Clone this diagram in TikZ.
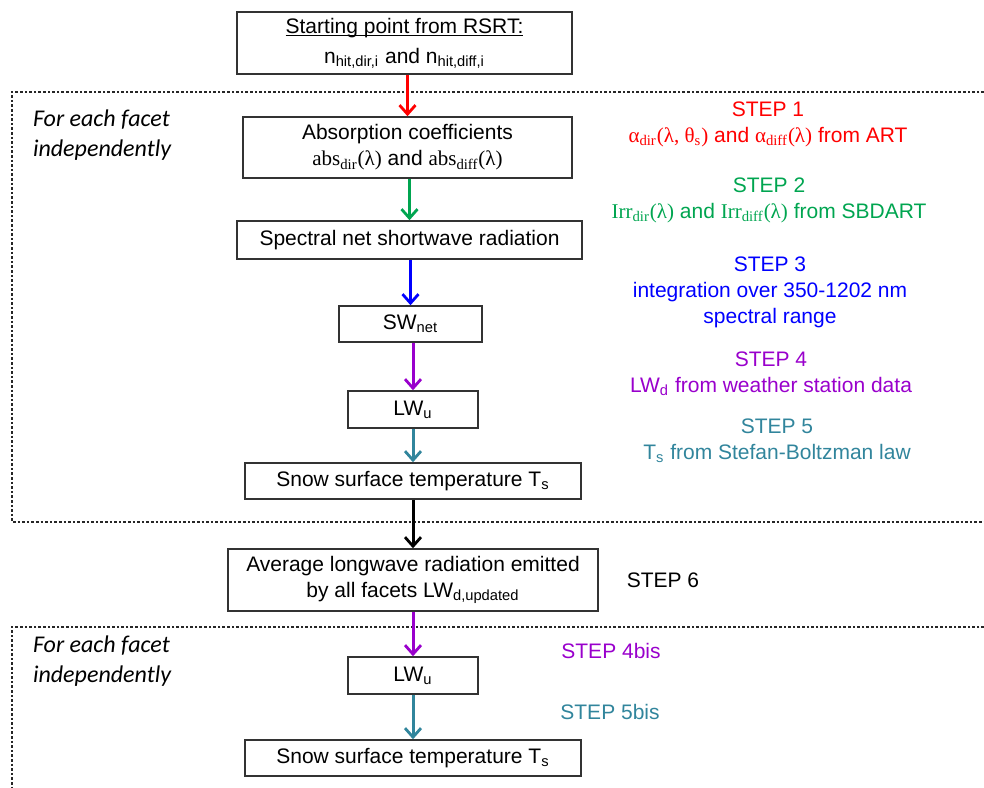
\documentclass[tikz,border=0pt]{standalone}
\usepackage{fontspec}
\setmainfont{Liberation Sans}
\newfontfamily\tnr{Liberation Serif}
\newfontfamily\calfont{Carlito}
\usetikzlibrary{arrows.meta}

\definecolor{stepred}{RGB}{255,0,0}
\definecolor{stepgreen}{RGB}{0,165,80}
\definecolor{stepblue}{RGB}{0,0,255}
\definecolor{steppurple}{RGB}{153,0,204}
\definecolor{stepteal}{RGB}{49,133,156}
\newcommand{\lo}[1]{\textsubscript{#1}}
\newcommand{\uln}[1]{\setbox0\hbox{#1}\rlap{\rule[-1.3pt]{\wd0}{0.5pt}}\box0}

\begin{document}
\begin{tikzpicture}[x=0.5pt,y=-0.5pt,
    box/.style={draw=black!80, line width=0.75pt, fill=white, align=center, inner sep=0pt,
        font=\fontsize{10.5}{13}\selectfont},
    flow/.style={line width=1.5pt, -{Straight Barb[length=4.5pt,width=8pt,line width=1.4pt]}},
    steptext/.style={align=center, font=\fontsize{10.5}{13}\selectfont},
    facet/.style={align=left, anchor=west, font=\calfont\itshape\fontsize{12}{15}\selectfont},
    frame/.style={line width=1.4pt, dash pattern=on 1.3pt off 1pt, black!85}]
    \useasboundingbox (0,0) rectangle (984,787);
    % Vùng "for each facet"
    \draw[frame] (984,92) -- (12,92) -- (12,522) -- (984,522);
    \draw[frame] (984,627) -- (12,627) -- (12,790);
    \node[facet] (facet1) at (26,135) {For each facet\\independently};
    \node[facet] (facet2) at (26,661) {For each facet\\independently};
    % Các hộp của sơ đồ
    \node[box, minimum width=167.5pt, minimum height=31pt] (start) at (404.5,43)
        {\uln{Starting point from RSRT:}\\[2pt] n\lo{hit,dir,i} and n\lo{hit,diff,i}};
    \node[box, minimum width=164.5pt, minimum height=30.5pt] (absorb) at (407.5,147.5)
        {Absorption coefficients\\ {\tnr abs\lo{dir}(λ)} and {\tnr abs\lo{diff}(λ)}};
    \node[box, minimum width=172.5pt, minimum height=19pt] (spectral) at (409.5,240)
        {Spectral net shortwave radiation};
    \node[box, minimum width=71.5pt, minimum height=18pt] (swnet) at (410.5,324) {SW\lo{net}};
    \node[box, minimum width=65pt, minimum height=18.5pt] (lwu) at (413,409.5) {LW\lo{u}};
    \node[box, minimum width=168pt, minimum height=18pt] (snow) at (413,481)
        {Snow surface temperature T\lo{s}};
    \node[box, minimum width=185pt, minimum height=31pt] (avg) at (413,580)
        {Average longwave radiation emitted\\ by all facets LW\lo{d,updated}};
    \node[box, minimum width=65pt, minimum height=18.5pt] (lwub) at (413,675.5) {LW\lo{u}};
    \node[box, minimum width=168pt, minimum height=18pt] (snowb) at (413,758)
        {Snow surface temperature T\lo{s}};
    % Mũi tên
    \draw[flow, stepred] (start.south -| absorb) -- (absorb);
    \draw[flow, stepgreen] (absorb.south -| spectral) -- (spectral);
    \draw[flow, stepblue] (spectral.south -| swnet) -- (swnet);
    \draw[flow, steppurple] (swnet.south -| lwu) -- (lwu);
    \draw[flow, stepteal] (lwu) -- (snow);
    \draw[flow, black] (snow) -- (avg);
    \draw[flow, steppurple] (avg) -- (lwub);
    \draw[flow, stepteal] (lwub) -- (snowb);
    % Các bước
    \node[steptext, text=stepred] (step1) at (768,124.5)
        {STEP 1\\ {\tnr α\lo{dir}(λ, θ\lo{s})} and {\tnr α\lo{diff}(λ)} from ART};
    \node[steptext, text=stepgreen] (step2) at (769,200)
        {STEP 2\\ {\tnr Irr\lo{dir}(λ)} and {\tnr Irr\lo{diff}(λ)} from SBDART};
    \node[steptext, text=stepblue] (step3) at (770,292)
        {STEP 3\\ integration over 350-1202 nm\\ spectral range};
    \node[steptext, text=steppurple] (step4) at (771,373.5)
        {STEP 4\\ LW\lo{d} from weather station data};
    \node[steptext, text=stepteal] (step5) at (777,441)
        {STEP 5\\ T\lo{s} from Stefan-Boltzman law};
    \node[steptext] (step6) at (663,580) {STEP 6};
    \node[steptext, text=steppurple] (step4b) at (611,651) {STEP 4bis};
    \node[steptext, text=stepteal] (step5b) at (610,712) {STEP 5bis};
\end{tikzpicture}
\end{document}
